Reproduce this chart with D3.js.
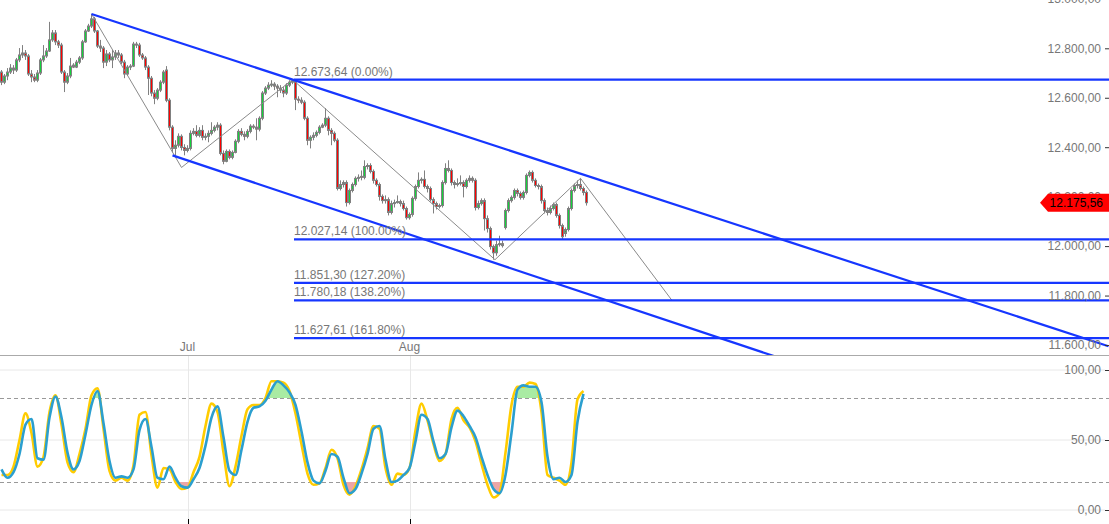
<!DOCTYPE html>
<html><head><meta charset="utf-8">
<script src="https://cdn.jsdelivr.net/npm/d3@7"></script>
<style>
body{margin:0;background:#fff;overflow:hidden}
svg{display:block}
text{font-family:"Liberation Sans",Arial,sans-serif;font-size:12px}
</style>
</head><body>
<svg id="c" width="1109" height="524"></svg>
<script>
// OHLC candles (price), one per period
const candles = [
[12704,12712,12651,12663],[12663,12696,12655,12688],[12688,12720,12671,12704],[12704,12736,12696,12720],[12720,12732,12696,12712],
[12712,12761,12704,12753],[12753,12801,12744,12773],[12773,12813,12761,12781],[12781,12793,12753,12769],[12769,12777,12688,12696],
[12696,12712,12663,12684],[12684,12696,12663,12671],[12671,12712,12663,12700],[12700,12761,12692,12753],[12753,12813,12744,12769],
[12769,12801,12761,12789],[12789,12907,12785,12834],[12834,12874,12826,12862],[12862,12874,12813,12826],[12826,12834,12801,12813],
[12813,12822,12696,12704],[12704,12712,12623,12663],[12663,12700,12655,12688],[12688,12761,12679,12728],[12732,12740,12720,12724],
[12724,12753,12720,12744],[12744,12769,12736,12761],[12761,12834,12753,12826],[12826,12878,12822,12870],[12870,12899,12866,12890],
[12890,12939,12882,12919],[12919,12927,12862,12870],[12870,12874,12801,12809],[12809,12834,12785,12801],[12801,12809,12720,12744],
[12744,12793,12728,12777],[12777,12785,12744,12753],[12753,12793,12720,12765],[12765,12793,12753,12781],[12781,12793,12761,12773],
[12773,12781,12736,12744],[12744,12753,12679,12696],[12696,12732,12688,12724],[12724,12736,12712,12728],[12728,12826,12724,12817],
[12817,12826,12801,12813],[12813,12822,12765,12773],[12773,12781,12753,12761],[12761,12769,12712,12724],[12724,12732,12611,12679],
[12679,12688,12606,12619],[12619,12631,12574,12598],[12598,12639,12590,12631],[12631,12671,12623,12663],[12663,12712,12655,12704],
[12712,12728,12582,12590],[12590,12598,12468,12481],[12481,12489,12379,12395],[12395,12428,12367,12408],[12408,12456,12399,12444],
[12444,12452,12387,12399],[12399,12412,12367,12387],[12387,12408,12379,12395],[12395,12468,12387,12456],[12456,12477,12448,12464],
[12464,12489,12440,12448],[12448,12481,12440,12468],[12468,12489,12428,12440],[12440,12456,12428,12444],[12444,12468,12420,12456],
[12456,12501,12448,12468],[12468,12489,12460,12481],[12481,12501,12468,12489],[12489,12497,12367,12375],[12375,12387,12331,12343],
[12343,12391,12339,12383],[12383,12391,12351,12359],[12359,12387,12351,12379],[12379,12432,12375,12424],[12424,12473,12416,12464],
[12464,12477,12444,12452],[12452,12464,12428,12444],[12444,12473,12436,12464],[12464,12493,12456,12485],[12485,12493,12473,12481],
[12481,12517,12428,12473],[12473,12525,12464,12517],[12517,12627,12509,12619],[12619,12647,12611,12639],[12639,12663,12631,12651],
[12651,12671,12643,12655],[12655,12663,12631,12647],[12647,12655,12602,12639],[12639,12651,12619,12631],[12631,12643,12602,12619],
[12619,12659,12611,12651],[12651,12671,12643,12663],[12663,12673.64,12655,12667],[12667,12671,12550,12594],[12594,12606,12578,12590],
[12590,12602,12574,12582],[12582,12590,12509,12517],[12517,12525,12408,12428],[12428,12448,12395,12440],[12440,12460,12428,12448],
[12448,12468,12440,12460],[12460,12489,12452,12481],[12481,12497,12477,12489],[12489,12558,12481,12517],[12517,12525,12448,12468],
[12468,12477,12408,12456],[12456,12464,12420,12428],[12428,12436,12225,12233],[12233,12266,12225,12249],[12249,12266,12237,12257],
[12257,12266,12160,12176],[12176,12233,12168,12225],[12225,12257,12217,12249],[12249,12282,12241,12274],[12274,12290,12261,12278],
[12282,12306,12266,12278],[12278,12347,12270,12322],[12322,12335,12310,12326],[12326,12335,12294,12302],[12302,12310,12253,12266],
[12266,12274,12241,12249],[12249,12257,12184,12201],[12201,12209,12172,12184],[12184,12205,12172,12188],[12188,12197,12124,12136],
[12136,12184,12128,12172],[12172,12188,12156,12176],[12176,12205,12172,12180],[12180,12188,12160,12172],[12172,12184,12144,12152],
[12152,12160,12107,12115],[12115,12136,12107,12128],[12128,12201,12119,12193],[12193,12249,12184,12241],[12241,12298,12233,12266],
[12266,12278,12253,12270],[12270,12306,12233,12241],[12241,12249,12217,12233],[12233,12241,12180,12188],[12188,12197,12132,12172],
[12172,12180,12148,12160],[12160,12172,12152,12164],[12164,12266,12156,12257],[12257,12335,12249,12314],[12314,12347,12298,12306],
[12306,12314,12245,12257],[12257,12266,12233,12249],[12249,12274,12241,12253],[12253,12286,12245,12257],[12257,12266,12197,12241],
[12241,12274,12233,12266],[12266,12286,12257,12274],[12274,12282,12257,12266],[12266,12274,12144,12156],[12156,12184,12148,12172],
[12172,12193,12164,12184],[12184,12193,12063,12111],[12111,12124,12055,12071],[12071,12079,11986,11998],[11998,12006,11945,11973],
[11973,12022,11961,12006],[12006,12042,11998,12010],[12010,12022,11994,12002],[12075,12152,12067,12144],[12144,12193,12136,12184],
[12184,12205,12176,12197],[12197,12233,12188,12225],[12225,12233,12201,12213],[12213,12221,12188,12197],[12197,12225,12188,12217],
[12217,12294,12209,12286],[12286,12306,12278,12298],[12298,12306,12257,12266],[12266,12274,12237,12245],[12245,12253,12229,12241],
[12241,12249,12172,12184],[12184,12193,12132,12144],[12144,12156,12124,12136],[12136,12164,12128,12152],[12152,12176,12144,12168],
[12168,12176,12115,12124],[12124,12132,12071,12083],[12083,12091,12027.14,12038],[12051,12075,12038,12067],[12067,12160,12059,12152],
[12152,12233,12144,12225],[12225,12253,12217,12245],[12245,12266,12233,12249],[12249,12274,12225,12233],[12233,12241,12205,12217],
[12217,12225,12164,12175.56]
];
const monthLabels = ["Jul", "Aug"];
const monthIdx = [62, 136];
const priceTicks = [11600, 11800, 12000, 12200, 12400, 12600, 12800, 13000];
const fibLevels = [12673.64, 12027.14, 11851.30, 11780.18, 11627.61];
const fibPct = ["0.00%", "100.00%", "127.20%", "138.20%", "161.80%"];
const fibStartIdx = 97.5;
const zigzagIdx = [30, 60, 97, 164.5, 193, 223.5];
const zigzagPrice = [12939, 12318, 12673.64, 11945, 12274, 11780.18];
const upperChannel = [[30, 12939], [369, 11595]];
const lowerChannel = [[57, 12367], [262, 11537]];
const lastPrice = 12175.56;
const stochStep = 2;
const stochK = [25,25,31,50,69,55,31,38,70,82,61,34,27,40,58,82,87,58,28,21,23,21,32,68,70,39,16,30,29,20,15,16,27,38,60,76,70,41,17,31,53,72,75,75,80,92,92,91,85,69,47,26,18,19,30,43,37,18,11,17,29,44,60,58,30,18,26,25,30,57,76,64,47,35,40,65,73,64,59,49,33,18,9,12,41,75,88,88,91,90,70,25,23,21,18,34,79,85];
const stochD = [29,23,27,40,61,65,37,36,66,81,66,41,29,35,54,75,85,62,35,23,24,23,29,57,65,45,23,22,31,23,17,16,22,30,46,66,74,52,28,25,43,63,73,74,78,86,92,89,84,75,56,34,21,19,28,40,38,23,12,15,26,40,58,60,36,20,21,25,30,49,68,65,49,37,40,59,71,67,60,52,38,25,15,12,25,55,86,89,88,88,77,38,22,23,20,25,63,83];
const oscTicks = [0, 50, 100];
const oscBands = [20, 80];

const W = 1109, H = 524;
const svg = d3.select("#c");
const loc = d3.formatLocale({decimal: ",", thousands: ".", grouping: [3], currency: ["", ""]});
const fmt = loc.format(",.2f");

const x = d3.scaleLinear().domain([0, 1]).range([1.5, 4.5]);
const yP = d3.scaleLinear().domain([11600, 12800]).range([345, 48.3]);
const yO = d3.scaleLinear().domain([0, 100]).range([510, 370]);

const BLUE = "#1636ff", GRAY = "#808080", TXT = "#777";

const defs = svg.append("defs");
defs.append("clipPath").attr("id", "mainClip").append("rect").attr("x", 0).attr("y", 0).attr("width", W).attr("height", 355);
defs.append("clipPath").attr("id", "above").append("rect").attr("x", 0).attr("y", 356).attr("width", W).attr("height", yO(oscBands[1]) - 356);
defs.append("clipPath").attr("id", "below").append("rect").attr("x", 0).attr("y", yO(oscBands[0])).attr("width", W).attr("height", H - yO(oscBands[0]));

// ---------- main panel ----------
const main = svg.append("g").attr("clip-path", "url(#mainClip)");

// candles
const cg = main.append("g");
candles.forEach((c, i) => {
  const [o, h, l, cl] = c;
  const cx = x(i);
  cg.append("line").attr("x1", cx).attr("x2", cx).attr("y1", yP(h)).attr("y2", yP(l))
    .attr("stroke", GRAY).attr("stroke-width", 1);
  const top = Math.min(yP(o), yP(cl)), bh = Math.max(1, Math.abs(yP(o) - yP(cl)));
  cg.append("rect").attr("x", cx - 1).attr("width", 2).attr("y", top).attr("height", bh)
    .attr("fill", cl >= o ? "#14d23c" : "#ff0000").attr("stroke", GRAY).attr("stroke-width", 1);
});

// zigzag
main.append("path")
  .attr("d", d3.line().x(d => x(d[0])).y(d => yP(d[1]))(zigzagIdx.map((v, i) => [v, zigzagPrice[i]])))
  .attr("fill", "none").attr("stroke", "#8a8a8a").attr("stroke-width", 1);

// channels
[upperChannel, lowerChannel].forEach(ch => {
  main.append("path").attr("d", d3.line().x(d => x(d[0])).y(d => yP(d[1]))(ch))
    .attr("fill", "none").attr("stroke", BLUE).attr("stroke-width", 2.2);
});

// fib levels
fibLevels.forEach((lv, i) => {
  main.append("line").attr("x1", x(fibStartIdx)).attr("x2", W).attr("y1", yP(lv)).attr("y2", yP(lv))
    .attr("stroke", BLUE).attr("stroke-width", 2.2);
  main.append("text").attr("x", x(fibStartIdx)).attr("y", yP(lv) - 4).attr("fill", TXT)
    .text(fmt(lv) + " (" + fibPct[i] + ")");
});

// month labels
monthLabels.forEach((m, i) => {
  svg.append("text").attr("x", x(monthIdx[i])).attr("y", 351).attr("text-anchor", "middle")
    .attr("fill", TXT).text(m);
});

// right price axis
const ax = svg.append("g").attr("transform", `translate(${W},0)`)
  .call(d3.axisLeft(yP).tickValues(priceTicks).tickSize(4).tickPadding(4).tickFormat(fmt));
ax.select(".domain").remove();
ax.selectAll("line").attr("stroke", "#333");
ax.selectAll("text").attr("fill", TXT).style("font-family", '"Liberation Sans",Arial,sans-serif').style("font-size", "12px");

// last price label
const ly = yP(lastPrice);
svg.append("path").attr("d", d3.line()([[1040, ly], [1048, ly - 9], [W, ly - 9], [W, ly + 9], [1048, ly + 9]]) + "Z")
  .attr("fill", "#ff0000");
svg.append("text").attr("x", 1103).attr("y", ly + 4.5).attr("text-anchor", "end").attr("fill", "#000").text(fmt(lastPrice));

// separator
svg.append("line").attr("x1", 0).attr("x2", W).attr("y1", 355.5).attr("y2", 355.5).attr("stroke", "#aaa");

// ---------- oscillator ----------
const og = svg.append("g");
oscTicks.forEach(t => {
  og.append("line").attr("x1", 0).attr("x2", W - 4).attr("y1", yO(t)).attr("y2", yO(t)).attr("stroke", "#e8e8e8");
});
monthIdx.forEach(m => {
  og.append("line").attr("x1", Math.round(x(m)) + 0.5).attr("x2", Math.round(x(m)) + 0.5).attr("y1", 356).attr("y2", H).attr("stroke", "#e8e8e8");
  og.append("line").attr("x1", Math.round(x(m)) + 0.5).attr("x2", Math.round(x(m)) + 0.5).attr("y1", H - 5).attr("y2", H).attr("stroke", "#000");
});
oscBands.forEach(b => {
  og.append("line").attr("x1", 0).attr("x2", W).attr("y1", Math.round(yO(b)) + 0.5).attr("y2", Math.round(yO(b)) + 0.5)
    .attr("stroke", "#999").attr("stroke-dasharray", "4,3");
});

const kPts = stochK.map((v, i) => [i * stochStep, v]);
const dPts = stochD.map((v, i) => [i * stochStep, v]);
const curve = d3.curveMonotoneX;
og.append("path").attr("clip-path", "url(#above)")
  .attr("d", d3.area().curve(curve).x(d => x(d[0])).y0(yO(oscBands[1])).y1(d => yO(d[1]))(dPts))
  .attr("fill", "#a9eba3");
og.append("path").attr("clip-path", "url(#below)")
  .attr("d", d3.area().curve(curve).x(d => x(d[0])).y0(yO(oscBands[0])).y1(d => yO(d[1]))(dPts))
  .attr("fill", "#eda6a6");
og.append("path").attr("d", d3.line().curve(curve).x(d => x(d[0])).y(d => yO(d[1]))(kPts))
  .attr("fill", "none").attr("stroke", "#ffcc00").attr("stroke-width", 2.6);
og.append("path").attr("d", d3.line().curve(curve).x(d => x(d[0])).y(d => yO(d[1]))(dPts))
  .attr("fill", "none").attr("stroke", "#2b9fcf").attr("stroke-width", 2.6);

const oax = svg.append("g").attr("transform", `translate(${W},0)`)
  .call(d3.axisLeft(yO).tickValues(oscTicks).tickSize(4).tickPadding(4).tickFormat(fmt));
oax.select(".domain").remove();
oax.selectAll("line").attr("stroke", "#333");
oax.selectAll("text").attr("fill", TXT).style("font-family", '"Liberation Sans",Arial,sans-serif').style("font-size", "12px");
</script>
</body></html>
